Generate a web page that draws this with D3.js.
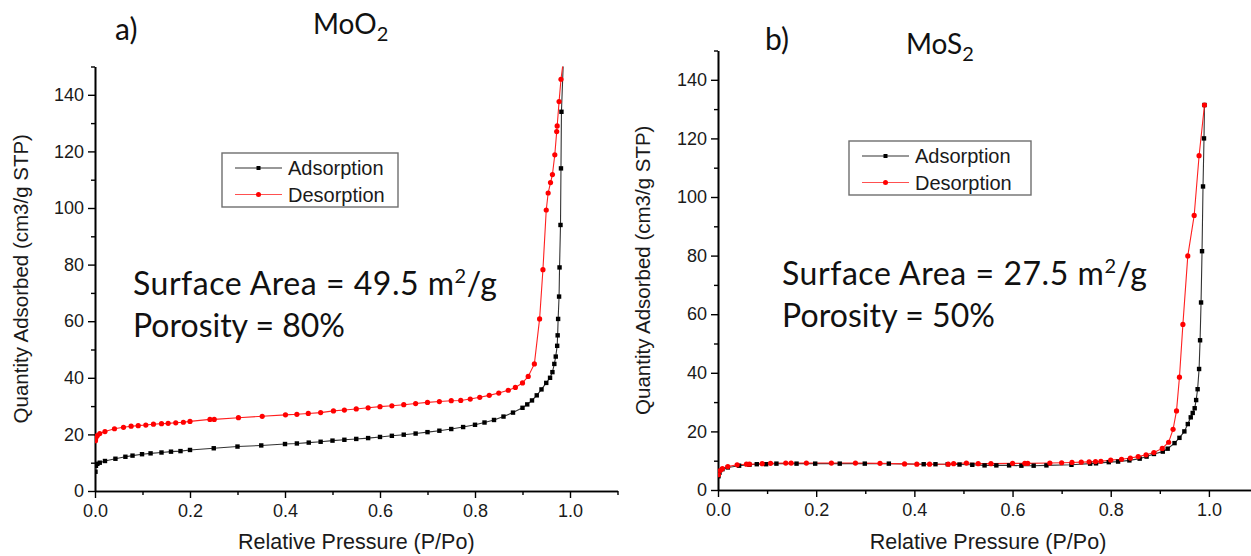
<!DOCTYPE html>
<html>
<head>
<meta charset="utf-8">
<script src="https://cdn.jsdelivr.net/npm/d3@7"></script>
<style>
  html, body { margin: 0; padding: 0; background: #fff; }
  svg { display: block; }
  .tick text { font-family: "Liberation Sans", Arial, sans-serif; }
</style>
</head>
<body>
<svg id="chart" width="1251" height="556"></svg>
<script>
// N2 sorption isotherms: [relative pressure P/Po, quantity adsorbed (cm3/g STP)]
const moo2Adsorption = [
  [0.001,6.8],[0.002,8.9],[0.005,9.6],[0.01,10.0],[0.021,10.6],[0.043,11.4],[0.064,12.1],[0.079,12.5],
  [0.099,13.0],[0.117,13.3],[0.14,13.6],[0.16,13.9],[0.18,14.1],[0.2,14.5],[0.25,15.1],[0.3,15.7],
  [0.35,16.1],[0.4,16.6],[0.425,16.8],[0.45,17.1],[0.475,17.4],[0.5,17.8],[0.525,18.1],[0.55,18.4],
  [0.575,18.7],[0.6,19.1],[0.625,19.5],[0.65,19.9],[0.675,20.3],[0.7,20.8],[0.725,21.3],[0.75,21.9],
  [0.775,22.6],[0.8,23.4],[0.82,24.2],[0.84,25.1],[0.86,26.3],[0.88,27.7],[0.9,29.4],[0.91,30.6],
  [0.92,32.0],[0.93,33.8],[0.94,35.9],[0.95,38.2],[0.958,40.0],[0.963,42.0],[0.967,44.9],[0.970,47.5],
  [0.973,51.3],[0.974,55.0],[0.975,60.8],[0.977,68.7],[0.978,79.0],[0.980,94.0],[0.981,114.0],
  [0.982,134.0],[0.986,152.0]
];
const moo2Desorption = [
  [0.001,17.8],[0.002,18.8],[0.005,19.6],[0.01,20.3],[0.021,21.0],[0.041,22.0],[0.06,22.5],[0.076,22.9],
  [0.091,23.1],[0.107,23.3],[0.123,23.6],[0.14,23.8],[0.154,23.9],[0.17,24.1],[0.186,24.3],[0.2,24.6],
  [0.242,25.3],[0.251,25.3],[0.302,25.9],[0.352,26.4],[0.401,26.9],[0.425,27.1],[0.449,27.4],[0.475,27.7],
  [0.502,28.3],[0.525,28.6],[0.55,29.0],[0.575,29.4],[0.6,29.8],[0.625,30.1],[0.65,30.5],[0.675,30.9],
  [0.7,31.3],[0.725,31.6],[0.75,31.9],[0.77,32.0],[0.79,32.5],[0.81,33.1],[0.83,33.8],[0.85,34.6],
  [0.87,35.6],[0.885,36.6],[0.9,38.2],[0.912,40.5],[0.925,44.9],[0.936,60.8],[0.943,78.2],[0.950,99.3],
  [0.954,105.3],[0.959,109.0],[0.963,111.8],[0.968,118.8],[0.972,127.0],[0.973,129.0],[0.977,137.6],
  [0.981,145.5],[0.986,152.0]
];
const mos2Adsorption = [
  [0.001,4.7],[0.003,5.9],[0.009,7.1],[0.02,7.7],[0.043,8.3],[0.064,8.6],[0.079,8.8],[0.098,8.8],
  [0.119,9.0],[0.16,9.0],[0.198,9.0],[0.248,9.0],[0.299,9.0],[0.348,9.0],[0.419,8.8],[0.443,8.8],
  [0.468,8.8],[0.492,8.7],[0.518,8.6],[0.543,8.4],[0.567,8.4],[0.593,8.4],[0.618,8.3],[0.643,8.3],
  [0.669,8.4],[0.72,8.6],[0.758,9.0],[0.77,9.1],[0.796,9.5],[0.815,9.7],[0.838,10.1],[0.859,10.7],
  [0.873,11.4],[0.888,12.3],[0.906,13.1],[0.916,14.1],[0.93,16.0],[0.94,17.8],[0.95,20.0],[0.957,22.5],
  [0.963,24.8],[0.967,26.3],[0.971,27.9],[0.974,30.7],[0.977,34.4],[0.980,41.3],[0.982,51.1],
  [0.984,64.0],[0.986,81.5],[0.988,103.6],[0.990,120.0],[0.991,131.4]
];
const mos2Desorption = [
  [0.001,5.2],[0.005,6.7],[0.009,7.3],[0.02,8.0],[0.039,8.6],[0.058,8.8],[0.064,8.8],[0.09,9.0],
  [0.107,9.1],[0.138,9.2],[0.149,9.2],[0.18,9.2],[0.231,9.2],[0.28,9.2],[0.33,9.1],[0.38,8.9],
  [0.405,8.8],[0.431,8.8],[0.469,8.8],[0.48,9.0],[0.506,9.2],[0.53,9.0],[0.556,9.0],[0.6,9.1],
  [0.625,9.1],[0.631,9.1],[0.676,9.2],[0.70,9.3],[0.721,9.4],[0.74,9.5],[0.756,9.6],[0.769,9.7],
  [0.78,9.8],[0.80,10.2],[0.822,10.5],[0.84,10.9],[0.856,11.4],[0.872,12.0],[0.888,12.8],[0.905,14.2],
  [0.918,16.3],[0.927,20.7],[0.934,27.0],[0.940,38.5],[0.947,56.5],[0.957,79.9],[0.970,93.7],
  [0.980,114.1],[0.991,131.4]
];

const xMajorTicks = [0, 0.2, 0.4, 0.6, 0.8, 1.0];
const xMinorTicks = [0.1, 0.3, 0.5, 0.7, 0.9, 1.1];
const yMajorTicks = [0, 20, 40, 60, 80, 100, 120, 140];
const yMinorTicks = [10, 30, 50, 70, 90, 110, 130, 150];

const seriesNames = ["Adsorption", "Desorption"];
const xTitle = "Relative Pressure (P/Po)";
const yTitle = "Quantity Adsorbed (cm3/g STP)";

const panels = [
  { id: "a", label: "a)", formula: ["MoO", "2"], area: "49.5", porosity: "80%",
    ads: moo2Adsorption, des: moo2Desorption,
    x0: 95, x1: 617.5, y0: 491, y1: 66.5,
    labelPos: [115, 40], formulaPos: [313, 34],
    textPos: [133, 295, 337], textW: [364, 212],
    legend: { x: 222, y: 153, w: 176, h: 54 },
    xTitleY: 549, yTitleX: 28 },
  { id: "b", label: "b)", formula: ["MoS", "2"], area: "27.5", porosity: "50%",
    ads: mos2Adsorption, des: mos2Desorption,
    x0: 718, x1: 1258, y0: 490, y1: 50.5,
    labelPos: [765, 50], formulaPos: [906, 54],
    textPos: [782, 285, 327], textW: [365, 213],
    legend: { x: 849, y: 141, w: 182, h: 54 },
    xTitleY: 549, yTitleX: 650 }
];

const svg = d3.select("#chart");
svg.append("rect").attr("width", 1251).attr("height", 556).attr("fill", "#fff");

const gothic = "'Lato', 'Noto Sans', sans-serif";
const arial = "'Liberation Sans', Arial, sans-serif";

panels.forEach(p => {
  const x = d3.scaleLinear().domain([0, 1.1]).range([p.x0, p.x1]);
  const y = d3.scaleLinear().domain([0, 150]).range([p.y0, p.y1]);
  const g = svg.append("g");

  // clip region for the data marks
  g.append("clipPath").attr("id", "clip-" + p.id)
    .append("rect").attr("x", p.x0).attr("y", p.y1)
    .attr("width", p.x1 - p.x0 + 2).attr("height", p.y0 - p.y1);

  // axes: major ticks with labels, minor ticks without
  g.append("g").attr("transform", `translate(0,${p.y0})`)
    .call(d3.axisBottom(x).tickValues(xMajorTicks).tickSize(7).tickSizeOuter(0)
      .tickPadding(6).tickFormat(d3.format(".1f")));
  g.append("g").attr("transform", `translate(0,${p.y0})`)
    .call(d3.axisBottom(x).tickValues(xMinorTicks).tickSize(4).tickSizeOuter(0).tickFormat(""));
  g.append("g").attr("transform", `translate(${p.x0},0)`)
    .call(d3.axisLeft(y).tickValues(yMajorTicks).tickSize(7).tickSizeOuter(0).tickPadding(4));
  g.append("g").attr("transform", `translate(${p.x0},0)`)
    .call(d3.axisLeft(y).tickValues(yMinorTicks).tickSize(4).tickSizeOuter(0).tickFormat(""));

  g.selectAll(".domain").attr("stroke", "#000").attr("stroke-width", 1.6);
  g.selectAll(".tick line").attr("stroke", "#000").attr("stroke-width", 1.4);
  g.selectAll(".tick text").attr("font-size", 18).attr("fill", "#1a1a1a");

  // axis titles
  g.append("text").attr("x", (p.x0 + p.x1) / 2).attr("y", p.xTitleY)
    .attr("text-anchor", "middle").attr("font-family", arial).attr("font-size", 21.5)
    .attr("fill", "#1a1a1a").text(xTitle);
  g.append("text")
    .attr("transform", `translate(${p.yTitleX},${(p.y0 + p.y1) / 2}) rotate(-90)`)
    .attr("text-anchor", "middle").attr("font-family", arial).attr("font-size", 20.5)
    .attr("fill", "#1a1a1a").text(yTitle);

  // isotherm curves
  const line = d3.line().x(d => x(d[0])).y(d => y(d[1]));
  const plot = g.append("g").attr("clip-path", `url(#clip-${p.id})`);

  plot.append("path").datum(p.ads).attr("d", line)
    .attr("fill", "none").attr("stroke", "#333").attr("stroke-width", 1.1);
  plot.append("path").datum(p.des).attr("d", line)
    .attr("fill", "none").attr("stroke", "#ff2020").attr("stroke-width", 1.1);

  plot.selectAll("rect.ads").data(p.ads).join("rect").attr("class", "ads")
    .attr("x", d => x(d[0]) - 2.2).attr("y", d => y(d[1]) - 2.2)
    .attr("width", 4.4).attr("height", 4.4).attr("fill", "#000");
  plot.selectAll("circle.des").data(p.des).join("circle").attr("class", "des")
    .attr("cx", d => x(d[0])).attr("cy", d => y(d[1])).attr("r", 2.6).attr("fill", "#ff0000");

  // legend
  const L = p.legend;
  const lg = g.append("g");
  lg.append("rect").attr("x", L.x).attr("y", L.y).attr("width", L.w).attr("height", L.h)
    .attr("fill", "#fff").attr("stroke", "#6e6e6e").attr("stroke-width", 1.4);
  seriesNames.forEach((name, i) => {
    const ly = L.y + 15 + i * 26.5;
    const col = i === 0 ? "#333" : "#ff5050";
    lg.append("line").attr("x1", L.x + 13).attr("x2", L.x + 60).attr("y1", ly).attr("y2", ly)
      .attr("stroke", col).attr("stroke-width", 1.1);
    if (i === 0) {
      lg.append("rect").attr("x", L.x + 34.5).attr("y", ly - 2).attr("width", 4).attr("height", 4).attr("fill", "#000");
    } else {
      lg.append("circle").attr("cx", L.x + 36.5).attr("cy", ly).attr("r", 2.5).attr("fill", "#ff0000");
    }
    lg.append("text").attr("x", L.x + 66).attr("y", ly + 7).attr("font-family", arial)
      .attr("font-size", 20).attr("fill", "#1a1a1a").text(name);
  });

  // panel label and formula
  g.append("text").attr("x", p.labelPos[0]).attr("y", p.labelPos[1])
    .attr("font-family", gothic).attr("font-size", 30).attr("fill", "#111").text(p.label);
  const f = g.append("text").attr("x", p.formulaPos[0]).attr("y", p.formulaPos[1])
    .attr("font-family", gothic).attr("font-size", 28).attr("fill", "#111");
  f.append("tspan").text(p.formula[0]);
  f.append("tspan").attr("dy", 7).attr("font-size", 20).text(p.formula[1]);

  // surface area and porosity annotation
  const t1 = g.append("text").attr("x", p.textPos[0]).attr("y", p.textPos[1])
    .attr("font-family", gothic).attr("font-size", 32).attr("fill", "#111")
    .attr("textLength", p.textW[0]).attr("lengthAdjust", "spacing");
  t1.append("tspan").text(`Surface Area = ${p.area} m`);
  t1.append("tspan").attr("dy", -12).attr("font-size", 20).text("2");
  t1.append("tspan").attr("dy", 12).text("/g");
  g.append("text").attr("x", p.textPos[0]).attr("y", p.textPos[2])
    .attr("font-family", gothic).attr("font-size", 32).attr("fill", "#111")
    .attr("textLength", p.textW[1]).attr("lengthAdjust", "spacing")
    .text(`Porosity = ${p.porosity}`);
});
</script>
</body>
</html>
